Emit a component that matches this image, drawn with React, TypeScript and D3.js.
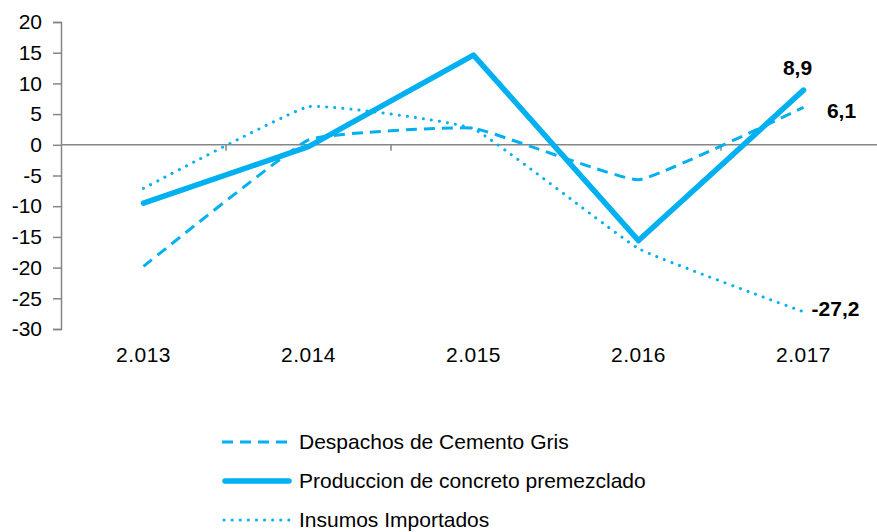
import React, { useRef, useEffect } from "react";
import * as d3 from "d3";

const years = ["2.013", "2.014", "2.015", "2.016", "2.017"];
const despachos = [-19.8, 0.8, 2.7, -5.7, 6.1];
const produccion = [-9.5, -0.3, 14.6, -15.6, 8.9];
const insumos = [-7.1, 6.2, 2.6, -16.9, -27.2];
const yTicks = [20, 15, 10, 5, 0, -5, -10, -15, -20, -25, -30];

const BLUE = "#00B0F0";
const FONT = "Liberation Sans, Arial, sans-serif";
const FS = 21;

const SERIES = [
  { name: "Despachos de Cemento Gris", values: despachos, width: 3, dash: "11,7", cap: "butt", curve: d3.curveCardinal.tension(0.7), label: "6,1" },
  { name: "Produccion de concreto premezclado", values: produccion, width: 5.5, dash: null, cap: "round", curve: d3.curveLinear, label: "8,9" },
  { name: "Insumos Importados", values: insumos, width: 3, dash: "0.1,8", cap: "round", curve: d3.curveCardinal.tension(0.7), label: "-27,2" },
];

const App = () => {
  const ref = useRef<SVGSVGElement | null>(null);

  useEffect(() => {
    const svg = d3.select(ref.current);
    svg.selectAll("*").remove();

    const x = d3.scaleBand().domain(years).range([61, 886]);
    const y = d3.scaleLinear().domain([-30, 20]).range([329, 22]);
    const cx = (i: number) => (x(years[i]) as number) + x.bandwidth() / 2;

    // y axis
    const yAxis = svg
      .append("g")
      .attr("transform", "translate(61,0)")
      .call(d3.axisLeft(y).tickValues(yTicks).tickSize(8).tickPadding(11).tickFormat((d) => `${d}`));
    yAxis.select(".domain").attr("stroke", "#868686").attr("stroke-width", 1.5);
    yAxis.selectAll(".tick line").attr("stroke", "#868686").attr("stroke-width", 1.5);
    yAxis
      .selectAll("text")
      .attr("font-family", FONT)
      .attr("font-size", FS)
      .attr("fill", "#000");

    // zero line with category ticks
    const xAxis = svg
      .append("g")
      .attr("transform", `translate(0,${y(0)})`)
      .call(d3.axisBottom(x).tickSize(0).tickFormat(() => ""));
    xAxis.select(".domain").remove();
    xAxis
      .append("line")
      .attr("x1", 61)
      .attr("x2", 877)
      .attr("stroke", "#868686")
      .attr("stroke-width", 1.5);
    xAxis
      .selectAll(".boundary")
      .data(years.slice(1))
      .join("line")
      .attr("x1", (d) => x(d) as number)
      .attr("x2", (d) => x(d) as number)
      .attr("y1", 0)
      .attr("y2", 6)
      .attr("stroke", "#868686")
      .attr("stroke-width", 1.5);

    // category labels
    svg
      .append("g")
      .selectAll("text")
      .data(years)
      .join("text")
      .attr("x", (d, i) => cx(i))
      .attr("y", 362)
      .attr("text-anchor", "middle")
      .attr("font-family", FONT)
      .attr("font-size", FS)
      .attr("letter-spacing", 0.5)
      .text((d) => d);

    // lines
    SERIES.forEach((s) => {
      const line = d3
        .line<number>()
        .x((d, i) => cx(i))
        .y((d) => y(d))
        .curve(s.curve);
      svg
        .append("path")
        .datum(s.values)
        .attr("d", line)
        .attr("fill", "none")
        .attr("stroke", BLUE)
        .attr("stroke-width", s.width)
        .attr("stroke-linecap", s.cap)
        .attr("stroke-linejoin", "round")
        .attr("stroke-dasharray", s.dash);
    });

    // end labels
    const last = years.length - 1;
    const labelPos = [
      { dx: 38, dy: 3 },
      { dx: -6, dy: -23 },
      { dx: 32, dy: -3 },
    ];
    SERIES.forEach((s, k) => {
      svg
        .append("text")
        .attr("x", cx(last) + labelPos[k].dx)
        .attr("y", y(s.values[last]) + labelPos[k].dy)
        .attr("dy", "0.35em")
        .attr("text-anchor", "middle")
        .attr("font-family", FONT)
        .attr("font-size", FS)
        .attr("font-weight", "bold")
        .text(s.label);
    });

    // legend
    const legend = svg
      .append("g")
      .selectAll("g")
      .data(SERIES)
      .join("g")
      .attr("transform", (d, i) => `translate(222,${442 + i * 39})`);
    legend
      .append("line")
      .attr("x1", (d) => (d.cap === "round" && d.dash ? 2 : d.cap === "round" ? 3 : 0))
      .attr("x2", (d) => (d.cap === "round" && !d.dash ? 67 : 70))
      .attr("stroke", BLUE)
      .attr("stroke-width", (d) => d.width)
      .attr("stroke-linecap", (d) => d.cap)
      .attr("stroke-dasharray", (d) => d.dash);
    legend
      .append("text")
      .attr("x", 77)
      .attr("dy", "0.35em")
      .attr("font-family", FONT)
      .attr("font-size", FS)
      .attr("fill", "#000")
      .text((d) => d.name);
  }, []);

  return (
    <svg
      ref={ref}
      width={877}
      height={532}
      style={{ position: "absolute", left: 0, top: 0, background: "#fff" }}
    />
  );
};

export default App;
